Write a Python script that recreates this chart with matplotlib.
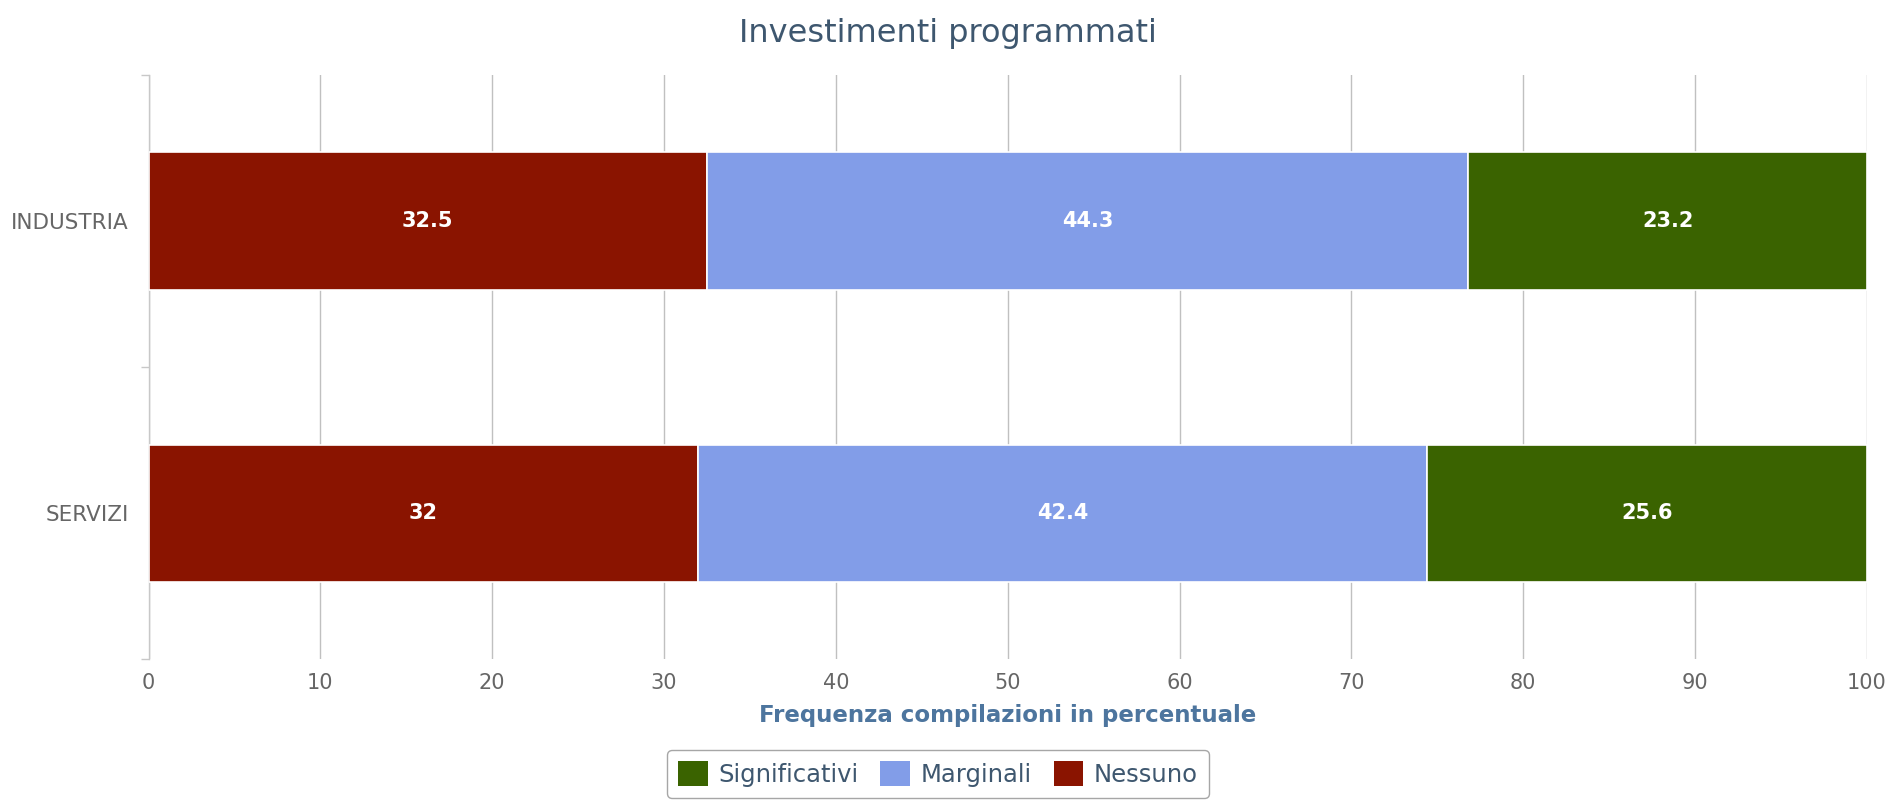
import numpy as np
import matplotlib
matplotlib.use("Agg")
import matplotlib.pyplot as plt

categories = ["INDUSTRIA", "SERVIZI"]
series_names = ["Nessuno", "Marginali", "Significativi"]
nessuno = [32.5, 32.0]
marginali = [44.3, 42.4]
significativi = [23.2, 25.6]
colors = {"Nessuno": "#8a1400", "Marginali": "#829de8", "Significativi": "#3a6300"}
x_ticks = [0, 10, 20, 30, 40, 50, 60, 70, 80, 90, 100]

plt.rcParams["font.family"] = ["DejaVu Sans"]

fig = plt.figure(figsize=(18.95, 8.02), dpi=100)
ax = fig.add_axes([0.0784, 0.178, 0.9068, 0.7285])

y = np.arange(len(categories))
values = {"Nessuno": nessuno, "Marginali": marginali, "Significativi": significativi}
left = np.zeros(len(categories))
handles = {}
for name in series_names:
    vals = np.array(values[name])
    bars = ax.barh(y, vals, left=left, height=0.47, color=colors[name],
                   edgecolor="white", linewidth=1.2, zorder=3, label=name)
    handles[name] = bars
    for yi, l, v in zip(y, left, vals):
        ax.text(l + v / 2, yi, f"{v:g}", ha="center", va="center",
                color="white", fontsize=15, fontweight="bold", zorder=4)
    left += vals

ax.set_xlim(0, 100)
ax.set_ylim(1.5, -0.5)
ax.set_xticks(x_ticks)
ax.set_yticks(y)
ax.set_yticklabels(categories)
ax.set_yticks([-0.5, 0.5, 1.5], minor=True)

ax.grid(axis="x", color="#c0c0c0", linewidth=1, zorder=0)
for s in ["top", "right", "bottom"]:
    ax.spines[s].set_visible(False)
ax.spines["left"].set_color("#c8c8c8")
ax.spines["left"].set_linewidth(1)

ax.tick_params(axis="x", length=0, pad=10, labelsize=15, labelcolor="#666666")
ax.tick_params(axis="y", which="major", length=0, pad=14, labelsize=15.5, labelcolor="#666666")
ax.tick_params(axis="y", which="minor", length=6, color="#c8c8c8", width=1)

ax.set_xlabel("Frequenza compilazioni in percentuale", fontsize=16.5,
              fontweight="bold", color="#4d759e", labelpad=8)
fig.suptitle("Investimenti programmati", fontsize=23, color="#3e576f", y=0.978)

order = ["Significativi", "Marginali", "Nessuno"]
leg = fig.legend([handles[n] for n in order], order, loc="center",
                 bbox_to_anchor=(0.495, 0.035), ncol=3, fontsize=17.5, frameon=True,
                 handlelength=1.2, handleheight=1.2, handletextpad=0.45,
                 columnspacing=0.9, borderpad=0.45, fancybox=True)
leg.get_frame().set_edgecolor("#909090")
leg.get_frame().set_linewidth(1)
for h in leg.legend_handles:
    h.set_edgecolor("none")
for t in leg.get_texts():
    t.set_color("#3e576f")

fig.savefig("out.png", dpi=100, facecolor="white")
